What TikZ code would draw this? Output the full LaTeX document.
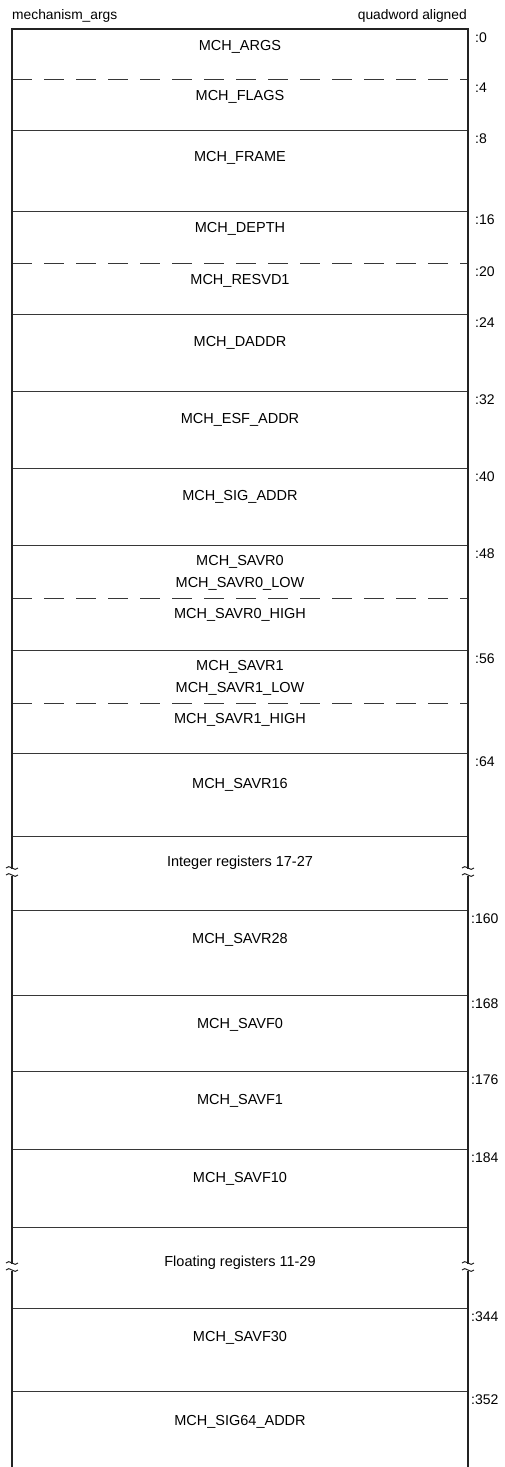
\documentclass[tikz,border=0pt]{standalone}
\usepackage{fontspec}
\setmainfont{Liberation Sans}
\usetikzlibrary{positioning}
\definecolor{ruleGray}{RGB}{55,55,55}
\definecolor{wallBlack}{RGB}{35,35,35}

\newcommand{\cutmark}[2]{%
  \draw[wallBlack,line width=1pt,shift={(#1,#2)}]
    (-6,-2) .. controls (-3,-7) and (3,3) .. (6,-2)
    (-6,5) .. controls (-3,0) and (3,10) .. (6,5);}

\begin{document}
\begin{tikzpicture}[x=1pt,y=-1pt,
  fld/.style={font=\fontsize{14.5}{16}\selectfont,inner sep=0pt},
  off/.style={anchor=base west,font=\fontsize{14}{16}\selectfont,inner sep=0pt},
  hdr/.style={font=\fontsize{13.8}{16}\selectfont,inner sep=0pt},
  sep/.style={draw=ruleGray,line width=1pt},
  half/.style={draw=ruleGray,line width=1pt,dash pattern=on 20pt off 12pt},
  wall/.style={draw=wallBlack,line width=2.4pt}
]
  \useasboundingbox (0,0) rectangle (504,1467);

  \node[hdr,anchor=base west](title) at (12,19) {mechanism\_args};
  \node[hdr,anchor=base east](align) at (467,19) {quadword aligned};

  \draw[half] (12,79) -- (468,79);
  \draw[sep] (12,130) -- (468,130);
  \draw[sep] (12,211) -- (468,211);
  \draw[half] (12,263) -- (468,263);
  \draw[sep] (12,314) -- (468,314);
  \draw[sep] (12,391) -- (468,391);
  \draw[sep] (12,468) -- (468,468);
  \draw[sep] (12,545) -- (468,545);
  \draw[half] (12,598) -- (468,598);
  \draw[sep] (12,650) -- (468,650);
  \draw[half] (12,703) -- (468,703);
  \draw[sep] (12,753) -- (468,753);
  \draw[sep] (12,836) -- (468,836);
  \draw[sep] (12,910) -- (468,910);
  \draw[sep] (12,995) -- (468,995);
  \draw[sep] (12,1071) -- (468,1071);
  \draw[sep] (12,1149) -- (468,1149);
  \draw[sep] (12,1227) -- (468,1227);
  \draw[sep] (12,1308) -- (468,1308);
  \draw[sep] (12,1391) -- (468,1391);

  \draw[wall] (12,869) -- (12,29) -- (468,29) -- (468,869);
  \draw[wall] (12,876) -- (12,1264);
  \draw[wall] (468,876) -- (468,1264);
  \draw[wall] (12,1271) -- (12,1467);
  \draw[wall] (468,1271) -- (468,1467);
  \cutmark{12}{870}
  \cutmark{468}{870}
  \cutmark{12}{1265}
  \cutmark{468}{1265}

  \node[fld](args)   at (240,47)   {MCH\_ARGS};
  \node[fld](flags)  at (240,97)   {MCH\_FLAGS};
  \node[fld](frame)  at (240,158)  {MCH\_FRAME};
  \node[fld](depth)  at (240,229)  {MCH\_DEPTH};
  \node[fld](resvd)  at (240,281)  {MCH\_RESVD1};
  \node[fld](daddr)  at (240,343)  {MCH\_DADDR};
  \node[fld](esf)    at (240,420)  {MCH\_ESF\_ADDR};
  \node[fld](sig)    at (240,497)  {MCH\_SIG\_ADDR};
  \node[fld](savr0)  at (240,562)  {MCH\_SAVR0};
  \node[fld,below=8pt of savr0](savr0lo) {MCH\_SAVR0\_LOW};
  \node[fld](savr0hi) at (240,615) {MCH\_SAVR0\_HIGH};
  \node[fld](savr1)  at (240,667)  {MCH\_SAVR1};
  \node[fld,below=8pt of savr1](savr1lo) {MCH\_SAVR1\_LOW};
  \node[fld](savr1hi) at (240,720) {MCH\_SAVR1\_HIGH};
  \node[fld](savr16) at (240,785)  {MCH\_SAVR16};
  \node[fld](intreg) at (240,863)  {Integer registers 17-27};
  \node[fld](savr28) at (240,940)  {MCH\_SAVR28};
  \node[fld](savf0)  at (240,1025) {MCH\_SAVF0};
  \node[fld](savf1)  at (240,1101) {MCH\_SAVF1};
  \node[fld](savf10) at (240,1179) {MCH\_SAVF10};
  \node[fld](fltreg) at (240,1263) {Floating registers 11-29};
  \node[fld](savf30) at (240,1338) {MCH\_SAVF30};
  \node[fld](sig64)  at (240,1422) {MCH\_SIG64\_ADDR};

  \node[off](o0)   at (475,42)   {:0};
  \node[off](o4)   at (475,92)   {:4};
  \node[off](o8)   at (475,143)  {:8};
  \node[off](o16)  at (475,224)  {:16};
  \node[off](o20)  at (475,276)  {:20};
  \node[off](o24)  at (475,327)  {:24};
  \node[off](o32)  at (475,404)  {:32};
  \node[off](o40)  at (475,481)  {:40};
  \node[off](o48)  at (475,558)  {:48};
  \node[off](o56)  at (475,663)  {:56};
  \node[off](o64)  at (475,766)  {:64};
  \node[off](o160) at (471,923)  {:160};
  \node[off](o168) at (471,1008) {:168};
  \node[off](o176) at (471,1084) {:176};
  \node[off](o184) at (471,1162) {:184};
  \node[off](o344) at (471,1321) {:344};
  \node[off](o352) at (471,1404) {:352};
\end{tikzpicture}
\end{document}
